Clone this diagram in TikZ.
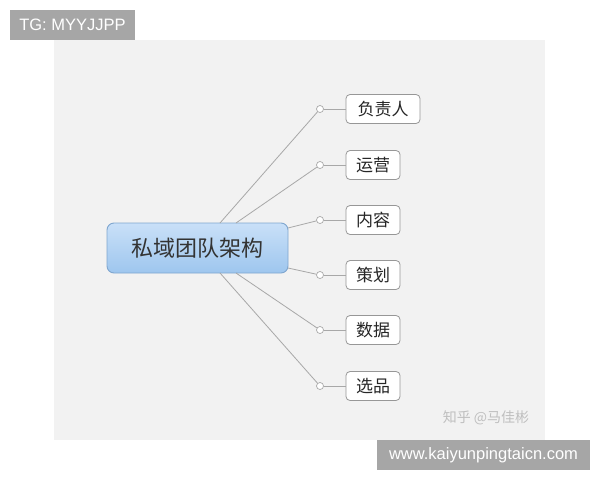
\documentclass[tikz,border=0pt]{standalone}
\usepackage{fontspec}
\setmainfont{Liberation Sans}
\newfontfamily\cjk{Noto Sans CJK SC}
\usetikzlibrary{shapes.geometric}
\definecolor{panel}{HTML}{F2F2F2}
\definecolor{linec}{HTML}{A8A8A8}
\definecolor{tagc}{HTML}{A6A6A6}
\definecolor{blueA}{HTML}{C9E0F8}
\definecolor{blueB}{HTML}{9EC6EE}
\definecolor{blueE}{HTML}{7FA6CF}
\tikzset{
  childbox/.style={draw=linec!120, line width=0.8pt, rounded corners=4pt, fill=white, minimum height=29pt, inner xsep=4pt, font=\cjk\fontsize{17}{17}\selectfont, text=black!85},
  dotc/.style={circle, draw=linec, fill=white, line width=0.7pt, inner sep=0pt, minimum size=7pt},
  conn/.style={draw=linec, line width=0.8pt},
  tag/.style={fill=tagc, text=white, inner sep=0pt, font=\fontsize{16.5}{16.5}\selectfont}
}
\begin{document}
\begin{tikzpicture}[x=1pt,y=-1pt]
\useasboundingbox (0,0) rectangle (600,480);
\fill[white] (0,0) rectangle (600,480);
\fill[panel] (54,40) rectangle (545,440);
% central node
\node[draw=blueE, line width=0.9pt, rounded corners=7pt, top color=blueA, bottom color=blueB, minimum width=181pt, minimum height=50pt, font=\cjk\fontsize{22}{22}\selectfont, text=black!80] (root) at (197.5,248) {私域团队架构};
% dots
\foreach \i/\y in {1/109,2/165,3/220,4/275,5/330,6/386}{
  \node[dotc] (d\i) at (320,\y) {};
}
% children
\node[childbox, minimum width=74pt] (c1) at (383,109) {负责人};
\node[childbox, minimum width=54pt] (c2) at (373,165) {运营};
\node[childbox, minimum width=54pt] (c3) at (373,220) {内容};
\node[childbox, minimum width=54pt] (c4) at (373,275) {策划};
\node[childbox, minimum width=54pt] (c5) at (373,330) {数据};
\node[childbox, minimum width=54pt] (c6) at (373,386) {选品};
% start coordinates on root
\coordinate (s1) at (220,223);
\coordinate (s2) at (236,223);
\coordinate (s3) at (288,228);
\coordinate (s4) at (288,268);
\coordinate (s5) at (236,273);
\coordinate (s6) at (220,273);
\foreach \i in {1,...,6}{
  \draw[conn] (s\i) -- (d\i);
  \draw[conn] (d\i) -- (c\i);
}
% watermark
\node[font=\cjk\fontsize{14}{14}\selectfont, text=black!25] (wm) at (486,418) {知乎 @马佳彬};
% tags
\node[tag, minimum width=125pt, minimum height=30pt] (tg) at (72.5,25) {TG: MYYJJPP};
\node[tag, minimum width=213pt, minimum height=30pt] (url) at (483.5,455) {www.kaiyunpingtaicn.com};
\end{tikzpicture}
\end{document}
